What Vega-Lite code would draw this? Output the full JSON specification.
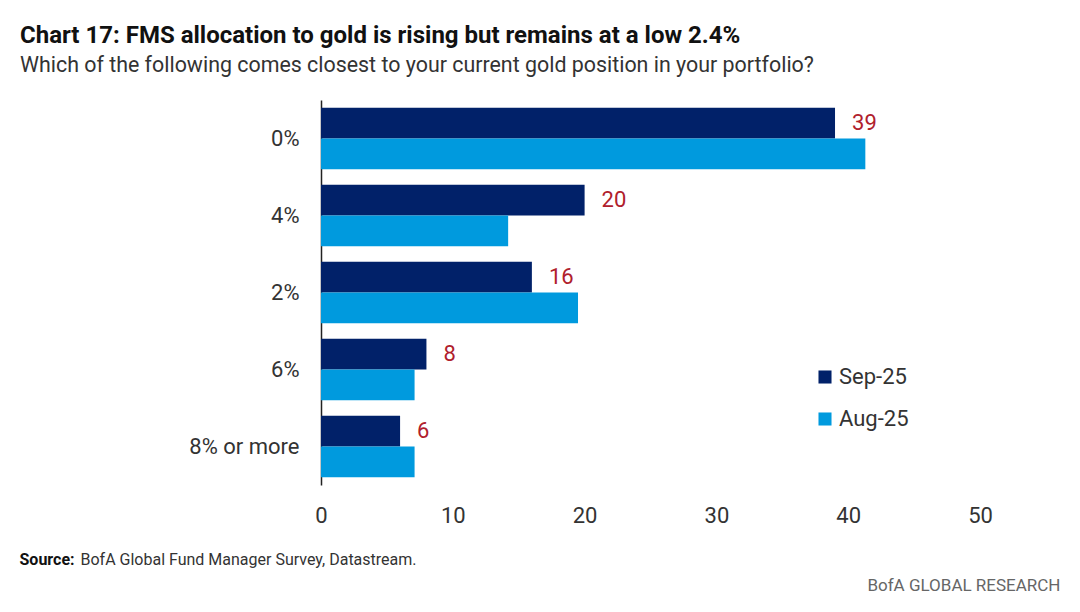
{
  "$schema": "https://vega.github.io/schema/vega-lite/v6.json",
  "width": 659,
  "height": 385,
  "autosize": {"type": "none"},
  "padding": {"left": 321, "top": 100, "right": 100, "bottom": 127},
  "background": "white",
  "config": {
    "font": "Roboto, sans-serif",
    "view": {"stroke": null}
  },
  "title": {
    "text": "Chart 17: FMS allocation to gold is rising but remains at a low 2.4%",
    "subtitle": "Which of the following comes closest to your current gold position in your portfolio?",
    "anchor": "start",
    "frame": "group",
    "dx": -301,
    "offset": 24,
    "font": "Roboto, sans-serif",
    "fontSize": 24,
    "fontWeight": "bold",
    "color": "#111111",
    "subtitleFont": "Roboto, sans-serif",
    "subtitleFontSize": 21.4,
    "subtitleColor": "#333333",
    "subtitlePadding": 7
  },
  "data": {
    "values": [
      {"bucket": "0%", "series": "Sep-25", "value": 39},
      {"bucket": "0%", "series": "Aug-25", "value": 41.3},
      {"bucket": "4%", "series": "Sep-25", "value": 20},
      {"bucket": "4%", "series": "Aug-25", "value": 14.2},
      {"bucket": "2%", "series": "Sep-25", "value": 16},
      {"bucket": "2%", "series": "Aug-25", "value": 19.5},
      {"bucket": "6%", "series": "Sep-25", "value": 8},
      {"bucket": "6%", "series": "Aug-25", "value": 7.1},
      {"bucket": "8% or more", "series": "Sep-25", "value": 6},
      {"bucket": "8% or more", "series": "Aug-25", "value": 7.1}
    ]
  },
  "layer": [
    {
      "mark": {"type": "bar"},
      "encoding": {
        "y": {
          "field": "bucket",
          "type": "nominal",
          "sort": ["0%", "4%", "2%", "6%", "8% or more"],
          "scale": {"paddingInner": 0.2, "paddingOuter": 0.1},
          "axis": {
            "title": null,
            "domain": true,
            "domainColor": "#222222",
            "domainWidth": 1.5,
            "ticks": false,
            "labelPadding": 22,
            "labelFontSize": 22,
            "labelColor": "#333333"
          }
        },
        "yOffset": {
          "field": "series",
          "type": "nominal",
          "sort": ["Sep-25", "Aug-25"],
          "scale": {"paddingInner": 0, "paddingOuter": 0}
        },
        "x": {
          "field": "value",
          "type": "quantitative",
          "scale": {"domain": [0, 50]},
          "axis": {
            "values": [0, 10, 20, 30, 40, 50],
            "grid": false,
            "domain": false,
            "ticks": false,
            "labelPadding": 20,
            "labelFontSize": 22,
            "labelColor": "#333333",
            "labelFlush": false,
            "title": "Source:",
            "titleFontSize": 16,
            "titleFontWeight": "bold",
            "titleColor": "#111111",
            "titleAnchor": "start",
            "titleAlign": "left",
            "titleBaseline": "alphabetic",
            "titleX": -302,
            "titleY": 79
          }
        },
        "color": {
          "field": "series",
          "type": "nominal",
          "sort": ["Sep-25", "Aug-25"],
          "scale": {"domain": ["Sep-25", "Aug-25"], "range": ["#012169", "#009ade"]},
          "legend": {
            "title": null,
            "orient": "none",
            "legendX": 493,
            "legendY": 266,
            "symbolType": "square",
            "symbolSize": 170,
            "symbolStrokeWidth": 0,
            "labelFontSize": 22,
            "labelColor": "#333333",
            "labelOffset": 3,
            "rowPadding": 20
          }
        }
      }
    },
    {
      "transform": [{"filter": "datum.series === 'Sep-25'"}],
      "mark": {"type": "text", "align": "left", "baseline": "middle", "dx": 17, "color": "#b0202c", "fontSize": 22},
      "encoding": {
        "y": {
          "field": "bucket",
          "type": "nominal",
          "sort": ["0%", "4%", "2%", "6%", "8% or more"],
          "axis": {
            "orient": "right",
            "labels": false,
            "domain": false,
            "ticks": false,
            "grid": false,
            "title": "BofA GLOBAL RESEARCH",
            "titleAngle": 0,
            "titleFontSize": 17,
            "titleFontWeight": "normal",
            "titleColor": "#666666",
            "titleAlign": "right",
            "titleBaseline": "alphabetic",
            "titleX": 80,
            "titleY": 490
          }
        },
        "yOffset": {"field": "series", "type": "nominal", "sort": ["Sep-25", "Aug-25"]},
        "x": {
          "field": "value",
          "type": "quantitative",
          "axis": {
            "orient": "top",
            "labels": false,
            "domain": false,
            "ticks": false,
            "grid": false,
            "title": "BofA Global Fund Manager Survey, Datastream.",
            "titleFontSize": 16,
            "titleFontWeight": "normal",
            "titleColor": "#333333",
            "titleAnchor": "start",
            "titleAlign": "left",
            "titleBaseline": "alphabetic",
            "titleX": -241,
            "titleY": 464
          }
        },
        "text": {"field": "value", "type": "quantitative"}
      }
    }
  ],
  "resolve": {"axis": {"x": "independent", "y": "independent"}}
}
